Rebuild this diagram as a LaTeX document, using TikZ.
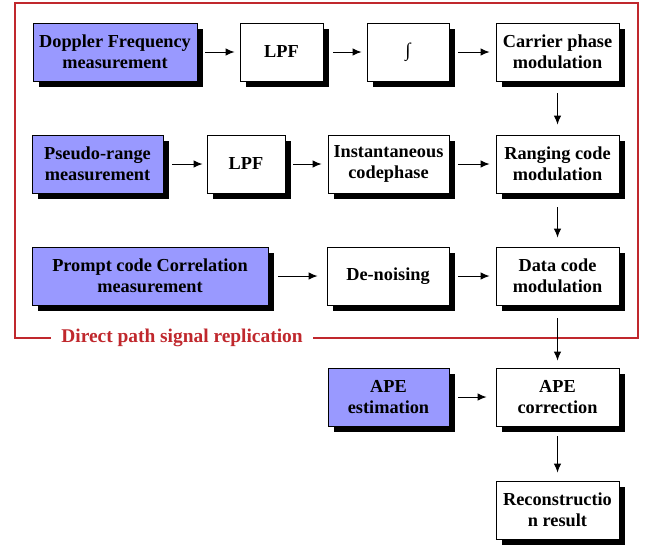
\documentclass[tikz,border=0pt]{standalone}
\usepackage{fontspec}
\setmainfont{Liberation Serif}
\usetikzlibrary{arrows.meta}
\usetikzlibrary{shadows}
\definecolor{measblue}{RGB}{153,153,255}
\definecolor{framered}{RGB}{192,40,45}
\tikzset{
  blk/.style={draw=black, line width=0.9pt, fill=white, minimum height=58pt,
    align=center, inner sep=2pt, font=\bfseries\fontsize{18.3}{20.5}\selectfont,
    drop shadow={shadow xshift=6pt, shadow yshift=-6pt, fill=black, opacity=1}},
  meas/.style={blk, fill=measblue},
  flow/.style={black, line width=1pt, -{Latex[length=9pt,width=7.5pt]}}
}
\begin{document}
\begin{tikzpicture}[x=1pt, y=-1pt]
\useasboundingbox (0,0) rectangle (650,544);
% replication frame
\draw[framered, line width=1.2pt] (15,3) rectangle (638,338);
\node[fill=white, text=framered, inner xsep=10pt, inner ysep=1pt,
  font=\bfseries\fontsize{19.4}{21}\selectfont] (lbl) at (182,338) {Direct path signal replication};
% carrier branch
\node[meas, minimum width=164pt] (dop) at (115,52) {Doppler Frequency\\measurement};
\node[blk, minimum width=83pt] (lpfa) at (281.5,52) {LPF};
\node[blk, minimum width=82pt, font=\fontsize{19}{20}\selectfont] (intg) at (408,52) {∫};
\node[blk, minimum width=123pt] (carr) at (557.5,52) {Carrier phase\\modulation};
% ranging branch
\node[meas, minimum width=131pt] (psr) at (97.5,164) {Pseudo-range\\measurement};
\node[blk, minimum width=78pt] (lpfb) at (246,164) {LPF};
\node[blk, minimum width=121pt] (inst) at (388.5,164) {Instantaneous\\codephase};
\node[blk, minimum width=123pt] (rng) at (557.5,164) {Ranging code\\modulation};
% data branch
\node[meas, minimum width=236pt] (prc) at (150,276) {Prompt code Correlation\\measurement};
\node[blk, minimum width=122pt] (dns) at (388,276) {De-noising};
\node[blk, minimum width=123pt] (data) at (557.5,276) {Data code\\modulation};
% APE stage
\node[meas, minimum width=121pt] (apee) at (388.5,397) {APE\\estimation};
\node[blk, minimum width=123pt] (apec) at (557.5,397) {APE\\correction};
\node[blk, minimum width=123pt] (rec) at (557.5,510) {Reconstructio\\n result};
% connectors
\draw[flow] ([xshift=8pt]dop.east) -- ([xshift=-5pt]lpfa.west);
\draw[flow] ([xshift=10pt]lpfa.east) -- ([xshift=-5pt]intg.west);
\draw[flow] ([xshift=9pt]intg.east) -- ([xshift=-6pt]carr.west);
\draw[flow] ([yshift=-12pt]carr.south) -- ([yshift=10pt]rng.north);
\draw[flow] ([xshift=9pt]psr.east) -- ([xshift=-4pt]lpfb.west);
\draw[flow] ([xshift=8pt]lpfb.east) -- ([xshift=-6pt]inst.west);
\draw[flow] ([xshift=9pt]inst.east) -- ([xshift=-6pt]rng.west);
\draw[flow] ([yshift=-14pt]rng.south) -- ([yshift=9pt]data.north);
\draw[flow] ([xshift=10pt]prc.east) -- ([xshift=-9pt]dns.west);
\draw[flow] ([xshift=9pt]dns.east) -- ([xshift=-6pt]data.west);
\draw[flow] ([yshift=-13pt]data.south) -- ([yshift=7pt]apec.north);
\draw[flow] ([xshift=9pt]apee.east) -- ([xshift=-9pt]apec.west);
\draw[flow] ([yshift=-10pt]apec.south) -- ([yshift=8pt]rec.north);
\end{tikzpicture}
\end{document}
